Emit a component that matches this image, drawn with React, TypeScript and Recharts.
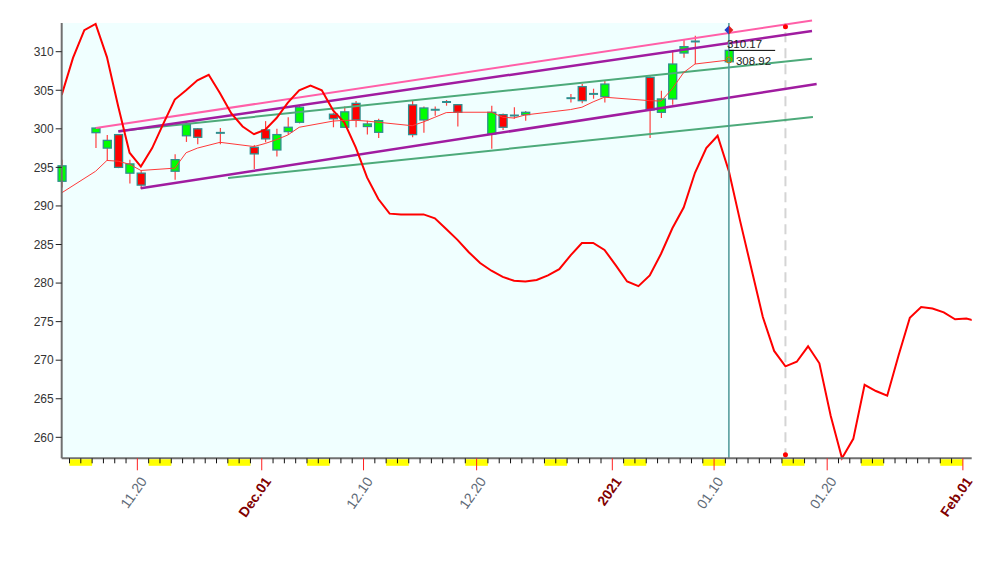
import React from 'react';
import {
  ComposedChart,
  Line,
  Bar,
  XAxis,
  YAxis,
  ReferenceArea,
  ReferenceLine,
  ReferenceDot,
} from 'recharts';

// ---- axes ----
const X_MIN = -17.69; // days relative to Dec 1 2020
const X_MAX = 62.78;
const Y_MIN = 257.28;
const Y_MAX = 313.72;
const BAR_TIME = 0.31; // fraction of the day at which each bar is plotted

const yTicks = [260, 265, 270, 275, 280, 285, 290, 295, 300, 305, 310];
const labelDays = [-11, 0, 9, 19, 31, 40, 50, 62];
const labelTexts = ['11.20', 'Dec.01', '12.10', '12.20', '2021', '01.10', '01.20', 'Feb.01'];
const labelBold = [false, true, false, false, true, false, false, true];
const firstTickDay = -17;
const lastTickDay = 62;

// ---- oscillator (thick red), one value per calendar day from Nov 13 ----
const oscStartDay = -18;
const oscValues = [
  304.4, 309.2, 312.8, 313.6, 309.3, 302.9, 296.9, 295.1, 297.5, 300.7,
  303.8, 305.0, 306.3, 307.0, 304.6, 302.0, 300.3, 299.3, 299.9, 301.4,
  303.4, 305.0, 305.6, 305.0, 302.4, 300.8, 297.6, 293.7, 290.9, 289.0,
  288.9, 288.9, 288.9, 288.4, 287.0, 285.6, 284.0, 282.6, 281.6, 280.8,
  280.3, 280.2, 280.4, 281.0, 281.8, 283.6, 285.2, 285.2, 284.3, 282.3,
  280.2, 279.6, 281.0, 283.8, 287.1, 289.8, 294.3, 297.5, 299.1, 294.5,
  288.0, 281.8, 275.6, 271.2, 269.2, 269.8, 271.8, 269.6, 262.8, 257.3,
  259.8, 266.8, 266.0, 265.4, 270.6, 275.5, 276.9, 276.7, 276.2, 275.3,
  275.4, 275.0,
];

// ---- candles ----
const candleDays = [
  -18, -15, -14, -13, -12, -11, -8, -7, -6, -4, -1, 0, 1, 2, 3, 6, 7, 8, 9, 10,
  13, 14, 15, 16, 17, 20, 21, 22, 23, 27, 28, 29, 30, 34, 35, 36, 37, 38, 41,
];
const opens = [
  293.2, 299.5, 297.5, 299.25, 294.25, 294.25, 294.5, 299.1, 300.0, 299.45,
  297.6, 299.86, 297.26, 299.64, 300.85, 301.9, 300.2, 303.3, 300.3, 299.55,
  303.1, 301.15, 302.36, 303.4, 303.13, 299.34, 301.84, 301.7, 301.84, 303.95,
  305.47, 304.5, 304.17, 306.67, 302.14, 303.87, 309.83, 311.3, 308.7,
];
const highs = [
  296.0, 300.2, 299.2, 299.3, 296.0, 294.6, 296.7, 301.0, 300.1, 300.1,
  297.9, 301.0, 300.0, 301.5, 303.0, 302.1, 302.9, 303.6, 301.06, 301.3,
  303.65, 302.9, 302.9, 303.74, 303.2, 303.0, 302.0, 302.8, 302.3, 304.5,
  305.8, 305.2, 306.2, 306.8, 304.95, 310.2, 311.65, 312.07, 310.2,
];
const lows = [
  292.4, 297.5, 295.9, 294.9, 292.9, 292.2, 293.4, 298.3, 298.0, 298.0,
  294.8, 298.25, 296.4, 299.25, 300.7, 300.2, 300.1, 300.2, 299.25, 298.8,
  298.9, 299.5, 301.7, 303.0, 300.3, 297.4, 299.86, 301.3, 301.06, 303.4,
  303.3, 303.9, 303.4, 298.8, 301.4, 303.13, 309.2, 308.4, 308.6,
];
const closes = [
  295.2, 300.1, 298.5, 295.0, 295.45, 292.7, 296.0, 300.55, 298.9, 299.5,
  296.75, 298.7, 299.25, 300.2, 302.8, 301.3, 302.2, 301.15, 300.63, 301.06,
  299.25, 302.7, 302.58, 303.56, 302.14, 302.14, 300.2, 301.75, 302.14, 304.0,
  303.65, 304.55, 305.8, 302.45, 303.87, 308.4, 310.65, 311.35, 310.17,
];
const maValues = [
  291.7, 294.5, 295.9, 295.8, 295.4, 294.6, 294.9, 296.9, 297.5, 298.25,
  297.7, 298.1, 298.6, 299.2, 300.2, 301.0, 301.1, 301.1, 301.0, 300.85,
  300.4, 300.9, 301.5, 302.1, 302.15, 302.15, 301.5, 301.4, 301.8, 302.5,
  302.8, 303.5, 304.1, 303.65, 303.6, 305.2, 307.3, 308.4, 308.92,
];

// ---- trend channel lines: [startDay, startValue, endDay, endValue] ----
const pinkTrend = [-14.68, 300.12, 48.66, 314.04];
const purpleUpperTrend = [-12.68, 299.64, 48.66, 312.67];
const greenUpperTrend = [-12.68, 299.72, 48.66, 309.08];
const purpleLowerTrend = [-10.7, 292.3, 49.07, 305.8];
const greenLowerTrend = [-2.98, 293.62, 48.74, 301.52];

// ---- markers ----
const lastBarDay = 41;
const projectionDay = 46;
const signalTop = 312.8;
const projectionTop = 313.24;
const projectionBottom = 257.75;
const closeLineEndDay = 45.4;

// ---- build tables ----
const candleRows = candleDays.map((d, i) => ({
  t: d + BAR_TIME,
  open: opens[i],
  high: highs[i],
  low: lows[i],
  close: closes[i],
  range: [lows[i], highs[i]],
  ma: maValues[i],
}));
const oscRows = oscValues.map((v, i) => ({ t: oscStartDay + i + BAR_TIME, osc: v }));
const tickDays: number[] = [];
for (let d = firstTickDay; d <= lastTickDay; d++) tickDays.push(d);

const lastT = lastBarDay + BAR_TIME;
const projT = projectionDay + BAR_TIME;
const lastClose = closes[closes.length - 1];
const lastMa = maValues[maValues.length - 1];

const FONT = '"Liberation Sans", Arial, sans-serif';
const GREEN = '#00ff00';
const RED = '#ff0000';
const OUTLINE = '#2f8f8f';
const WICK = '#ff4040';

const Candle = (props: any) => {
  const { x, y, width, height, payload } = props;
  if (!payload || payload.open == null || x == null) return null;
  const { open, close, high, low } = payload;
  const top0 = Math.min(y, y + height);
  const h = Math.abs(height);
  const span = high - low;
  const k = span > 0 ? h / span : 0;
  const yOf = (v: number) => top0 + (high - v) * k;
  const cx = x + width / 2;
  const up = close >= open;
  const bt = yOf(Math.max(open, close));
  const bb = yOf(Math.min(open, close));
  const bh = bb - bt;
  return (
    <g>
      <line x1={cx} x2={cx} y1={top0} y2={top0 + h} stroke={WICK} strokeWidth={1.2} />
      {bh < 2 ? (
        <line x1={x - 0.5} x2={x + width + 0.5} y1={(bt + bb) / 2} y2={(bt + bb) / 2} stroke={OUTLINE} strokeWidth={2} />
      ) : (
        <rect x={x} y={bt} width={width} height={bh} fill={up ? GREEN : RED} stroke={OUTLINE} strokeWidth={1.3} />
      )}
    </g>
  );
};

const DayTick = (props: any) => {
  const { x, y, payload, width } = props;
  const d = payload.value as number;
  const w = typeof width === 'number' && width > 0 ? width : 910;
  const dayPx = w / (X_MAX - X_MIN);
  const date = new Date(Date.UTC(2020, 11, 1 + d));
  const isSat = date.getUTCDay() === 6;
  const li = labelDays.indexOf(d);
  const ax = x + 10;
  const ay = y + 23;
  return (
    <g>
      {isSat && <rect x={x} y={y + 1} width={dayPx * 2} height={6.5} fill="#ffff00" />}
      {li >= 0 ? (
        <line x1={x} x2={x} y1={y} y2={y + 12} stroke="#ff2020" strokeWidth={1} />
      ) : (
        <line x1={x} x2={x} y1={y} y2={y + 5} stroke="#111" strokeWidth={1} />
      )}
      {li >= 0 && (
        <text
          x={ax}
          y={ay}
          textAnchor="end"
          transform={`rotate(-55 ${ax} ${ay})`}
          fontFamily={FONT}
          fontSize={14}
          fontWeight={labelBold[li] ? 'bold' : 'normal'}
          fill={labelBold[li] ? '#800000' : '#5f6b78'}
        >
          {labelTexts[li]}
        </text>
      )}
    </g>
  );
};

const seg = (a: number[]) => [
  { x: a[0], y: a[1] },
  { x: a[2], y: a[3] },
];

const Diamond = (p: any) => {
  const { cx, cy } = p;
  const s = 4.5;
  return (
    <g>
      <polygon points={`${cx},${cy - s} ${cx - s},${cy} ${cx},${cy + s}`} fill="#1e3cc8" />
      <polygon points={`${cx},${cy - s} ${cx + s},${cy} ${cx},${cy + s}`} fill="#e02020" />
    </g>
  );
};

export default function App() {
  return (
    <div style={{ position: 'absolute', left: 0, top: 0, width: 988, height: 564, background: '#fff' }}>
      <ComposedChart
        width={988}
        height={564}
        data={candleRows}
        margin={{ top: 23, right: 16.3, bottom: 45.7, left: 0 }}
      >
        <XAxis
          xAxisId={0}
          type="number"
          dataKey="t"
          domain={[X_MIN, X_MAX]}
          allowDataOverflow
          ticks={tickDays}
          interval={0}
          tick={<DayTick />}
          tickLine={false}
          tickSize={0}
          tickMargin={0}
          height={60}
          axisLine={{ stroke: '#707070', strokeWidth: 2 }}
        />
        <XAxis
          xAxisId="bars"
          type="number"
          dataKey="t"
          domain={[X_MIN, X_MAX]}
          ticks={tickDays}
          interval={0}
          hide
        />
        <YAxis
          type="number"
          domain={[Y_MIN, Y_MAX]}
          ticks={yTicks}
          interval={0}
          width={61.7}
          tickSize={6}
          tickMargin={2}
          tick={{ fill: '#333', fontSize: 12, fontFamily: FONT }}
          tickLine={{ stroke: '#222' }}
          axisLine={{ stroke: '#707070', strokeWidth: 2 }}
        />
        <ReferenceArea x1={X_MIN} x2={lastT} y1={Y_MIN} y2={Y_MAX} fill="#f0ffff" fillOpacity={1} stroke="none" />

        <ReferenceLine x={projT} stroke="#d4d4d4" strokeWidth={2} strokeDasharray="10 6" />

        <ReferenceLine segment={seg(greenLowerTrend)} stroke="#4daa7a" strokeWidth={2} ifOverflow="visible" />
        <ReferenceLine segment={seg(greenUpperTrend)} stroke="#4daa7a" strokeWidth={2} ifOverflow="visible" />
        <ReferenceLine segment={seg(purpleLowerTrend)} stroke="#a01ca0" strokeWidth={2.5} ifOverflow="visible" />
        <ReferenceLine segment={seg(purpleUpperTrend)} stroke="#a01ca0" strokeWidth={2.5} ifOverflow="visible" />
        <ReferenceLine segment={seg(pinkTrend)} stroke="#ff5fa8" strokeWidth={2} ifOverflow="visible" />

        <Line
          data={oscRows}
          dataKey="osc"
          type="linear"
          stroke="#ff0000"
          strokeWidth={2}
          dot={false}
          isAnimationActive={false}
        />

        <Bar
          xAxisId="bars"
          dataKey="range"
          barSize={8}
          shape={<Candle />}
          isAnimationActive={false}
        />

        <Line
          dataKey="ma"
          type="linear"
          stroke="#ff3a3a"
          strokeWidth={1}
          dot={false}
          connectNulls
          isAnimationActive={false}
        />

        <ReferenceLine x={lastT} stroke="#4a9898" strokeWidth={1.5} />
        <ReferenceLine
          segment={[
            { x: lastT, y: lastClose },
            { x: closeLineEndDay, y: lastClose },
          ]}
          stroke="#000"
          strokeWidth={1}
        />
        <ReferenceDot
          x={lastT}
          y={lastClose}
          r={0}
          shape={(p: any) => (
            <text x={p.cx - 2} y={p.cy - 2.5} fontFamily={FONT} fontSize={11.5} fill="#222">
              {lastClose.toFixed(2)}
            </text>
          )}
        />
        <ReferenceDot
          x={lastT}
          y={lastMa}
          r={3}
          shape={(p: any) => (
            <g>
              <circle cx={p.cx} cy={p.cy} r={3} fill="none" stroke="#c87800" strokeWidth={1} />
              <text x={p.cx + 7} y={p.cy + 5} fontFamily={FONT} fontSize={11.5} fill="#222">
                {lastMa.toFixed(2)}
              </text>
            </g>
          )}
        />
        <ReferenceDot x={lastT} y={signalTop} r={4} shape={<Diamond />} />
        <ReferenceDot x={projT} y={projectionTop} r={2.5} fill="#ff0000" stroke="none" />
        <ReferenceDot x={projT} y={projectionBottom} r={2.5} fill="#ff0000" stroke="none" />
      </ComposedChart>
    </div>
  );
}
